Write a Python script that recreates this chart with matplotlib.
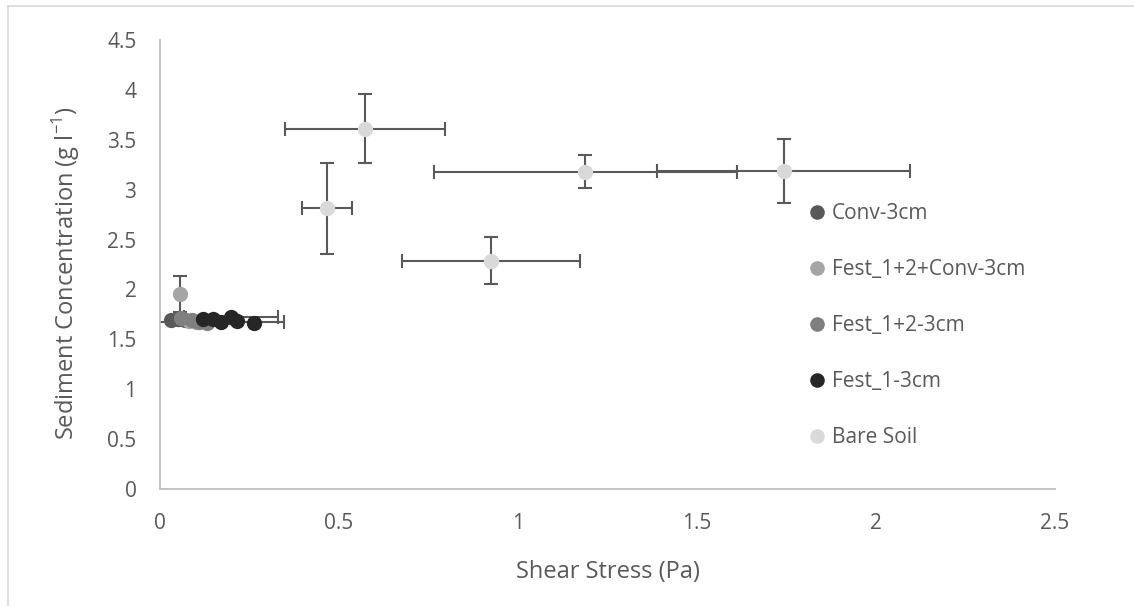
import matplotlib
matplotlib.use("Agg")
import matplotlib.pyplot as plt
from matplotlib.lines import Line2D

plt.rcParams['font.family'] = ['Open Sans', 'DejaVu Sans']
plt.rcParams['mathtext.fontset'] = 'custom'
plt.rcParams['mathtext.rm'] = 'Open Sans'

# shear stress (Pa) and sediment concentration (g/l) per treatment
conv_x = [0.03, 0.05, 0.07]
conv_y = [1.69, 1.70, 1.69]

fest12conv_x = [0.057, 0.08, 0.10]
fest12conv_y = [1.95, 1.68, 1.67]
fest12conv_yerr = [0.18, 0, 0]

fest12_x = [0.06, 0.09, 0.11, 0.13]
fest12_y = [1.71, 1.69, 1.67, 1.66]

fest1_x = [0.121, 0.148, 0.17, 0.198, 0.214, 0.263]
fest1_y = [1.70, 1.70, 1.675, 1.72, 1.68, 1.66]
fest1_xerr = [0, 0, 0.175, 0.132, 0, 0]

bare_x = [0.572, 0.466, 1.188, 1.742, 0.925]
bare_y = [3.613, 2.813, 3.18, 3.183, 2.287]
bare_xerr = [0.223, 0.069, 0.423, 0.353, 0.249]
bare_yerr = [0.347, 0.458, 0.165, 0.32, 0.237]

series = [
    ("Conv-3cm", conv_x, conv_y, None, None, "#595959"),
    ("Fest_1+2+Conv-3cm", fest12conv_x, fest12conv_y, None, fest12conv_yerr, "#a5a5a5"),
    ("Fest_1+2-3cm", fest12_x, fest12_y, None, None, "#7f7f7f"),
    ("Fest_1-3cm", fest1_x, fest1_y, fest1_xerr, None, "#262626"),
    ("Bare Soil", bare_x, bare_y, bare_xerr, bare_yerr, "#d9d9d9"),
]

fig = plt.figure(figsize=(11.34, 6.06), dpi=100)
ax = fig.add_axes([160 / 1134, 1 - 489 / 606, 895 / 1134, 449 / 606])

txt = "#595959"
handles = []
for i, (name, xs, ys, xe, ye, col) in enumerate(series):
    if xe is not None or ye is not None:
        ax.errorbar(xs, ys, xerr=xe, yerr=ye, fmt='none', ecolor="#595959",
                    elinewidth=1.5, capsize=5, capthick=1.5, zorder=2)
    ax.plot(xs, ys, 'o', color=col, markersize=11, markeredgewidth=0,
            zorder=3 + i)
    handles.append(Line2D([], [], marker='o', linestyle='none', color=col,
                          markersize=10.5, markeredgewidth=0, label=name))

ax.set_xlim(0, 2.5)
ax.set_ylim(0, 4.5)
ax.set_xticks([0, 0.5, 1, 1.5, 2, 2.5])
ax.set_xticklabels(["0", "0.5", "1", "1.5", "2", "2.5"])
ax.set_yticks([0, 0.5, 1, 1.5, 2, 2.5, 3, 3.5, 4, 4.5])
ax.set_yticklabels(["0", "0.5", "1", "1.5", "2", "2.5", "3", "3.5", "4", "4.5"])
ax.tick_params(length=0, labelsize=15, labelcolor=txt, pad=17)

for s in ["top", "right"]:
    ax.spines[s].set_visible(False)
for s in ["left", "bottom"]:
    ax.spines[s].set_color("#bfbfbf")
    ax.spines[s].set_linewidth(1.3)

ax.set_xlabel("Shear Stress (Pa)", fontsize=17, color=txt)
ax.set_ylabel(r"Sediment Concentration (g l$^{\mathregular{-1}}$)", fontsize=17, color=txt)
ax.xaxis.set_label_coords(0.5, -(560 - 489) / 449)
ax.yaxis.set_label_coords(-(160 - 82) / 895, 0.48)

leg = ax.legend(handles=handles, loc='upper left',
                bbox_to_anchor=(810 / 1134, 1 - 203 / 606),
                bbox_transform=fig.transFigure, frameon=False, fontsize=15,
                borderpad=0, borderaxespad=0, handlelength=0.7,
                handletextpad=0.35, labelspacing=1.68)
for t in leg.get_texts():
    t.set_color(txt)

# thin frame around the chart area
fig.add_artist(Line2D([8 / 1134, 1], [1 - 6 / 606, 1 - 6 / 606], color="#d9d9d9", linewidth=1.2))
fig.add_artist(Line2D([8 / 1134, 8 / 1134], [0, 1 - 6 / 606], color="#d9d9d9", linewidth=1.2))

fig.savefig("out.png", dpi=100)
